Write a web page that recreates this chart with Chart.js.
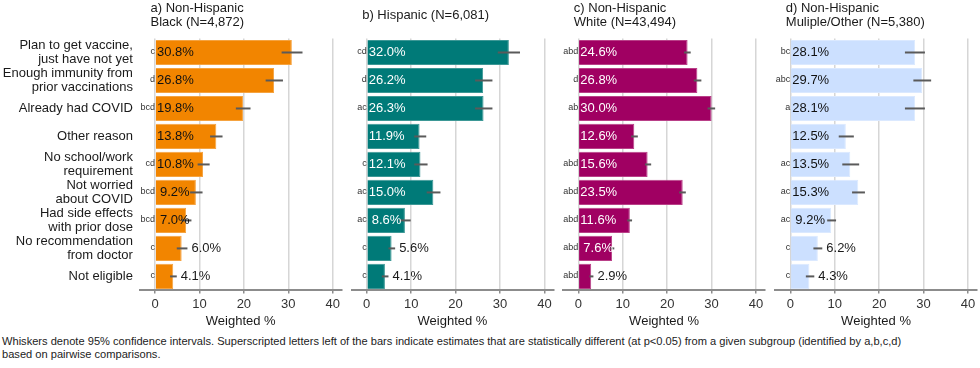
<!DOCTYPE html>
<html>
<head>
<meta charset="utf-8">
<script src="https://cdn.jsdelivr.net/npm/chart.js@4.4.0/dist/chart.umd.min.js"></script>
<style>
  html, body { margin: 0; padding: 0; background: #fff; }
  body { width: 980px; height: 368px; position: relative; overflow: hidden;
         font-family: "Liberation Sans", Arial, sans-serif; color: #1a1a1a; }
  .panel { position: absolute; top: 0; height: 330px; }
  .title { position: absolute; top: 1px; height: 28px; font-size: 13px; line-height: 14px;
           display: flex; flex-direction: column; justify-content: center; white-space: nowrap; }
  #note { position: absolute; left: 2px; top: 335px; font-size: 11.1px; line-height: 12.5px; color: #222; white-space: nowrap; }
</style>
</head>
<body>
<div class="panel" id="pa" style="left:0;width:344px"><canvas id="ca"></canvas></div>
<div class="panel" id="pb" style="left:344px;width:212px"><canvas id="cb"></canvas></div>
<div class="panel" id="pc" style="left:556px;width:212px"><canvas id="cc"></canvas></div>
<div class="panel" id="pd" style="left:768px;width:212px"><canvas id="cd"></canvas></div>
<div id="note">Whiskers denote 95% confidence intervals. Superscripted letters left of the bars indicate estimates that are statistically different (at p&lt;0.05) from a given subgroup (identified by a,b,c,d)<br>based on pairwise comparisons.</div>

<script>
const reasons = [
  ['Plan to get vaccine,', 'just have not yet'],
  ['Enough immunity from', 'prior vaccinations'],
  'Already had COVID',
  'Other reason',
  ['No school/work', 'requirement'],
  ['Not worried', 'about COVID'],
  ['Had side effects', 'with prior dose'],
  ['No recommendation', 'from doctor'],
  'Not eligible'
];
const xTicks = [0, 10, 20, 30, 40];

const blackPct  = [30.8, 26.8, 19.8, 13.8, 10.8, 9.2, 7.0, 6.0, 4.1];
const blackLow  = [28.5, 24.9, 18.2, 12.4, 9.6, 7.9, 6.0, 4.9, 3.4];
const blackHigh = [33.2, 28.8, 21.5, 15.2, 12.3, 10.7, 8.2, 7.3, 4.9];
const blackSig  = ['c', 'd', 'bcd', '', 'cd', 'bcd', 'bcd', 'c', 'c'];

const hispPct  = [32.0, 26.2, 26.3, 11.9, 12.1, 15.0, 8.6, 5.6, 4.1];
const hispLow  = [29.5, 24.4, 24.4, 10.7, 10.7, 13.5, 7.3, 4.9, 3.4];
const hispHigh = [34.5, 28.3, 28.3, 13.4, 13.7, 16.6, 9.9, 6.4, 4.9];
const hispSig  = ['cd', 'd', 'ac', '', 'c', 'ac', 'ac', 'c', 'c'];

const whitePct  = [24.6, 26.8, 30.0, 12.6, 15.6, 23.5, 11.6, 7.6, 2.9];
const whiteLow  = [23.8, 26.0, 29.1, 11.9, 15.0, 22.7, 11.0, 7.2, 2.5];
const whiteHigh = [25.3, 27.7, 30.8, 13.4, 16.4, 24.2, 12.1, 8.1, 3.4];
const whiteSig  = ['abd', 'd', 'ab', '', 'abd', 'abd', 'abd', 'abd', 'abd'];

const otherPct  = [28.1, 29.7, 28.1, 12.5, 13.5, 15.3, 9.2, 6.2, 4.3];
const otherLow  = [25.8, 27.7, 25.8, 10.9, 11.7, 13.9, 8.3, 5.2, 3.5];
const otherHigh = [30.3, 31.7, 30.3, 14.3, 15.5, 16.8, 10.3, 7.2, 5.4];
const otherSig  = ['bc', 'abc', 'a', '', 'ac', 'ac', 'ac', 'c', 'c'];

const titles = [
  ['a) Non-Hispanic', 'Black (N=4,872)'],
  ['b) Hispanic (N=6,081)'],
  ['c) Non-Hispanic', 'White (N=43,494)'],
  ['d) Non-Hispanic', 'Muliple/Other (N=5,380)']
];

Chart.defaults.font.family = '"Liberation Sans", Arial, sans-serif';
Chart.defaults.color = '#1a1a1a';

// whiskers, value labels and the little significance letters
function annotate(p) {
  return {
    id: 'annotate',
    afterDatasetsDraw(chart) {
      const ctx = chart.ctx;
      const xs = chart.scales.x;
      const zero = xs.getPixelForValue(0);
      ctx.save();
      chart.getDatasetMeta(0).data.forEach((bar, i) => {
        const y = bar.y;
        const lo = xs.getPixelForValue(p.low[i]);
        const hi = xs.getPixelForValue(p.high[i]);
        ctx.strokeStyle = '#5a5a5a';
        ctx.lineWidth = 2;
        ctx.beginPath();
        ctx.moveTo(lo, y);
        ctx.lineTo(hi, y);
        ctx.stroke();

        const v = p.pct[i];
        const txt = v.toFixed(1) + '%';
        ctx.font = '13px "Liberation Sans", Arial, sans-serif';
        ctx.textBaseline = 'middle';
        ctx.textAlign = 'left';
        if (v < 7) {
          ctx.fillStyle = '#1a1a1a';
          ctx.fillText(txt, hi + 4, y);
        } else {
          ctx.fillStyle = p.textColor;
          ctx.fillText(txt, zero + (v < 10 ? 5 : 2), y);
        }

        if (p.sig[i]) {
          ctx.font = '9px "Liberation Sans", Arial, sans-serif';
          ctx.fillStyle = '#333';
          ctx.textAlign = 'right';
          ctx.fillText(p.sig[i], zero, y - 1);
        }
      });
      ctx.restore();
    }
  };
}

function makePanel(id, boxId, p) {
  const box = document.getElementById(boxId);
  const chart = new Chart(document.getElementById(id), {
    type: 'bar',
    data: {
      labels: reasons,
      datasets: [{
        data: p.pct,
        backgroundColor: p.color,
        borderColor: p.edge,
        borderWidth: 1,
        barPercentage: 0.9,
        categoryPercentage: 1
      }]
    },
    options: {
      indexAxis: 'y',
      responsive: true,
      maintainAspectRatio: false,
      animation: false,
      layout: { padding: { top: 38.5, bottom: 2, left: 0, right: p.padRight } },
      plugins: { legend: { display: false }, tooltip: { enabled: false } },
      scales: {
        x: {
          type: 'linear',
          min: -3.4,
          max: 42,
          afterBuildTicks: (s) => { s.ticks = xTicks.map(v => ({ value: v })); },
          grid: { color: '#d6d6d6', lineWidth: 1.5, tickLength: 3, tickColor: '#8c8c8c', tickWidth: 1.5 },
          border: { display: true, color: '#8c8c8c', width: 2 },
          ticks: { font: { size: 13 }, color: '#333', padding: 3 },
          title: { display: true, text: 'Weighted %', font: { size: 13, lineHeight: 1 }, color: '#1a1a1a', padding: 0 }
        },
        y: {
          grid: { display: false, drawTicks: false },
          border: { display: false },
          ticks: { display: p.showLabels, autoSkip: false, font: { size: 13, lineHeight: 1.1 }, color: '#1a1a1a', padding: 7 },
          afterFit: (s) => { s.width = p.yWidth; }
        }
      }
    },
    plugins: [annotate(p)]
  });

  const t = document.createElement('div');
  t.className = 'title';
  t.style.left = (box.offsetLeft + chart.scales.x.getPixelForValue(0) - 4.5) + 'px';
  t.innerHTML = p.title.join('<br>');
  document.body.appendChild(t);
  return chart;
}

makePanel('ca', 'pa', { pct: blackPct, low: blackLow, high: blackHigh, sig: blackSig, title: titles[0],
  color: '#f28500', edge: '#f5a340', textColor: '#111', showLabels: true, yWidth: 139.9, padRight: 2.4 });
makePanel('cb', 'pb', { pct: hispPct, low: hispLow, high: hispHigh, sig: hispSig, title: titles[1],
  color: '#007a78', edge: '#3d9896', textColor: '#fff', showLabels: false, yWidth: 7.6, padRight: 2.7 });
makePanel('cc', 'pc', { pct: whitePct, low: whiteLow, high: whiteHigh, sig: whiteSig, title: titles[2],
  color: '#a00062', edge: '#b94088', textColor: '#fff', showLabels: false, yWidth: 7.2, padRight: 3.1 });
makePanel('cd', 'pd', { pct: otherPct, low: otherLow, high: otherHigh, sig: otherSig, title: titles[3],
  color: '#cce0ff', edge: '#dbe9ff', textColor: '#111', showLabels: false, yWidth: 7.2, padRight: 3.1 });
</script>
</body>
</html>
